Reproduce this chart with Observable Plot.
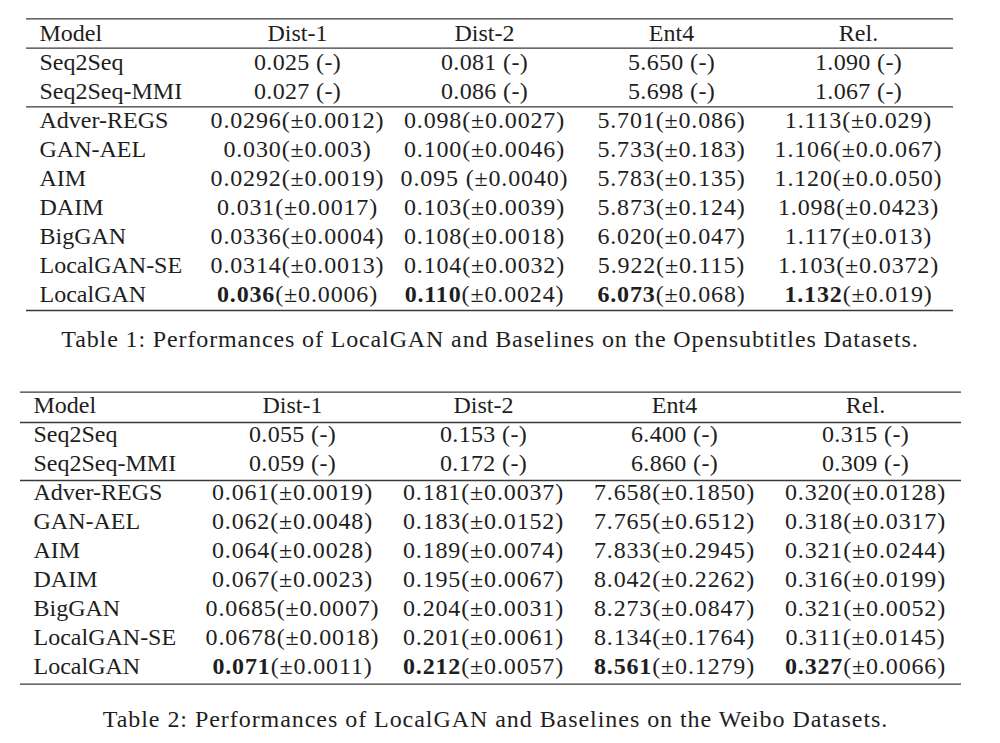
<!DOCTYPE html>
<html><head><meta charset="utf-8">
<script src="https://cdn.jsdelivr.net/npm/d3@7"></script>
<script src="https://cdn.jsdelivr.net/npm/@observablehq/plot@0.6"></script>
<style>
html,body{margin:0;padding:0;background:#fff;}
#wrap{position:relative;width:1000px;height:743px;overflow:hidden;font-family:"Liberation Serif",serif;color:#1e1e1e;}
.tbl{position:absolute;left:0;line-height:0;}
.cap{position:absolute;left:0;text-align:center;font-size:24px;line-height:24px;white-space:nowrap;}
</style></head><body><div id="wrap"></div>
<script>
// ---- data ----
const headerLabel = "Model";
const models = ["Seq2Seq","Seq2Seq-MMI","Adver-REGS","GAN-AEL","AIM","DAIM","BigGAN","LocalGAN-SE","LocalGAN"];
const metrics = ["Dist-1","Dist-2","Ent4","Rel."];
const bestModel = "LocalGAN";

const open_dist1 = ["0.025 (-)","0.027 (-)","0.0296(±0.0012)","0.030(±0.003)","0.0292(±0.0019)","0.031(±0.0017)","0.0336(±0.0004)","0.0314(±0.0013)","0.036(±0.0006)"];
const open_dist2 = ["0.081 (-)","0.086 (-)","0.098(±0.0027)","0.100(±0.0046)","0.095 (±0.0040)","0.103(±0.0039)","0.108(±0.0018)","0.104(±0.0032)","0.110(±0.0024)"];
const open_ent4  = ["5.650 (-)","5.698 (-)","5.701(±0.086)","5.733(±0.183)","5.783(±0.135)","5.873(±0.124)","6.020(±0.047)","5.922(±0.115)","6.073(±0.068)"];
const open_rel   = ["1.090 (-)","1.067 (-)","1.113(±0.029)","1.106(±0.0.067)","1.120(±0.0.050)","1.098(±0.0423)","1.117(±0.013)","1.103(±0.0372)","1.132(±0.019)"];

const weibo_dist1 = ["0.055 (-)","0.059 (-)","0.061(±0.0019)","0.062(±0.0048)","0.064(±0.0028)","0.067(±0.0023)","0.0685(±0.0007)","0.0678(±0.0018)","0.071(±0.0011)"];
const weibo_dist2 = ["0.153 (-)","0.172 (-)","0.181(±0.0037)","0.183(±0.0152)","0.189(±0.0074)","0.195(±0.0067)","0.204(±0.0031)","0.201(±0.0061)","0.212(±0.0057)"];
const weibo_ent4  = ["6.400 (-)","6.860 (-)","7.658(±0.1850)","7.765(±0.6512)","7.833(±0.2945)","8.042(±0.2262)","8.273(±0.0847)","8.134(±0.1764)","8.561(±0.1279)"];
const weibo_rel   = ["0.315 (-)","0.309 (-)","0.320(±0.0128)","0.318(±0.0317)","0.321(±0.0244)","0.316(±0.0199)","0.321(±0.0052)","0.311(±0.0145)","0.327(±0.0066)"];

const caption1 = "Table 1: Performances of LocalGAN and Baselines on the Opensubtitles Datasets.";
const caption2 = "Table 2: Performances of LocalGAN and Baselines on the Weibo Datasets.";

// ---- style ----
const FONT = "Liberation Serif";
const TEXT = "#1e1e1e";
const RULE = "#3a3a3a";
const FS = 24;

function makeTable(cols, o) {
  const rows = [headerLabel, ...models];
  const cells = [];
  metrics.forEach((m, j) => models.forEach((md, i) => cells.push({row: md, col: m, text: cols[j][i], best: md === bestModel})));
  const heads = metrics.map(m => ({row: headerLabel, col: m, text: m}));
  const common = {fontFamily: FONT, fontSize: FS, fill: TEXT, lineAnchor: "bottom"};
  const plot = Plot.plot({
    width: 1000, height: o.height,
    marginLeft: o.left, marginRight: o.right, marginTop: 0, marginBottom: 0,
    x: {type: "point", domain: metrics, range: o.xRange, padding: 0, axis: null},
    y: {type: "point", domain: rows, range: o.yRange, padding: 0, axis: null},
    style: {background: "transparent", overflow: "visible"},
    marks: [
      Plot.ruleY([headerLabel], {y: d => d, dy: o.topRule, stroke: RULE, strokeWidth: 1.3}),
      Plot.ruleY([headerLabel], {y: d => d, dy: o.headRule, stroke: RULE, strokeWidth: 1.3}),
      Plot.ruleY([models[1]], {y: d => d, dy: o.midRule, stroke: RULE, strokeWidth: 1.3}),
      Plot.ruleY([models[models.length - 1]], {y: d => d, dy: o.botRule, stroke: RULE, strokeWidth: 1.3}),
      Plot.text(rows, {y: d => d, text: d => d, frameAnchor: "left", textAnchor: "start", dx: o.modelDx, ...common}),
      Plot.text(heads, {x: "col", y: "row", text: "text", ...common}),
      Plot.text(cells, {x: "col", y: "row", text: "text", ...common})
    ]
  });
  // bold the best mean values, widen numeric cells a little
  const bestTexts = new Set(cells.filter(c => c.best).map(c => c.text));
  const cellTexts = new Set(cells.map(c => c.text));
  plot.querySelectorAll("text").forEach(t => {
    const s = t.textContent;
    if (!cellTexts.has(s)) return;
    t.style.letterSpacing = s.includes("±") ? "0.85px" : "0.35px";
    if (bestTexts.has(s)) {
      const k = s.indexOf("(");
      t.textContent = "";
      const b = document.createElementNS("http://www.w3.org/2000/svg", "tspan");
      b.setAttribute("font-weight", "bold");
      b.textContent = s.slice(0, k);
      const r = document.createElementNS("http://www.w3.org/2000/svg", "tspan");
      r.textContent = s.slice(k);
      t.appendChild(b); t.appendChild(r);
    }
  });
  const div = document.createElement("div");
  div.className = "tbl";
  div.style.top = o.top + "px";
  div.appendChild(plot);
  return div;
}

const wrap = document.getElementById("wrap");
wrap.appendChild(makeTable([open_dist1, open_dist2, open_ent4, open_rel], {
  top: 0, height: 325, left: 26, right: 47, xRange: [296, 858], yRange: [37.3, 303.3],
  topRule: -21.6, headRule: 7.7, midRule: 8.3, botRule: 9, modelDx: 13
}));
wrap.appendChild(makeTable([weibo_dist1, weibo_dist2, weibo_ent4, weibo_rel], {
  top: 372, height: 325, left: 20, right: 39, xRange: [290.5, 865.5], yRange: [37.3, 303],
  topRule: -20.3, headRule: 10, midRule: 10, botRule: 10.7, modelDx: 13
}));

function cap(text, top, width, spacing) {
  const d = document.createElement("div");
  d.className = "cap";
  d.style.top = top + "px";
  d.style.width = width + "px";
  d.style.letterSpacing = spacing + "px";
  d.textContent = text;
  wrap.appendChild(d);
}
cap(caption1, 326.6, 980, 0.87);
cap(caption2, 706.6, 991, 0.95);
</script></body></html>
